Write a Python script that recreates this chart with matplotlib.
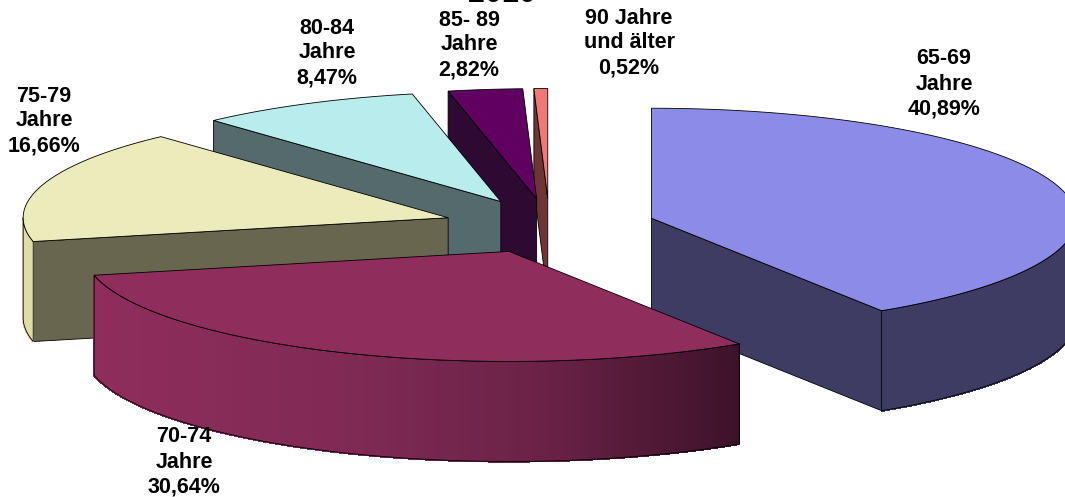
import numpy as np
import matplotlib
matplotlib.use('Agg')
import matplotlib.pyplot as plt
from matplotlib.colors import LinearSegmentedColormap
from matplotlib.patches import Polygon

plt.rcParams['font.family'] = ['Liberation Sans', 'DejaVu Sans']

# Daten
title = '2010'
age_labels = ['65-69\nJahre', '70-74\nJahre', '75-79\nJahre', '80-84\nJahre', '85- 89\nJahre', '90 Jahre\nund älter']
shares = [40.89, 30.64, 16.66, 8.47, 2.82, 0.52]

# Farben: Oberseite, Schnittflaeche, Mantel
top_colors = ['#8c8ce8', '#8f2d5c', '#ecebbb', '#b9ecec', '#600060', '#f07878']
cut_colors = ['#3e3c62', '#3c1229', '#68664f', '#546a6c', '#2e0a33', '#6e3535']
side_colors = ['#3e3c62', None, '#e0dca8', '#546a6c', '#2e0a33', '#6e3535']
maroon_side = LinearSegmentedColormap.from_list(
    'maroon_side', [(0, '#8f2d5c'), (0.4, '#7f2a55'), (0.7, '#6a2246'), (1, '#3c1229')])

# Geometrie der Torte in Pixeln
center_x, center_y = 549.5, 226
radius_x, radius_y = 425, 110
depth = 100
explode = 0.25

# Beschriftung: Mitte x, Mitte y
label_pos = [(944, 84), (184, 462), (44, 121), (327, 53), (469, 45), (629, 43)]
draw_order = [5, 4, 3, 2, 0, 1]

fig = plt.figure(figsize=(10.65, 4.97), dpi=100)
ax = fig.add_axes([0, 0, 1, 1])
ax.set_xlim(0, 1065)
ax.set_ylim(497, 0)
ax.axis('off')


def rim(cx, cy, angles):
    # Winkel im Uhrzeigersinn von 12 Uhr
    rad = np.radians(angles)
    return np.column_stack((cx + radius_x * np.sin(rad), cy - radius_y * np.cos(rad)))


edges = np.cumsum([0] + shares) / sum(shares) * 360

for i in draw_order:
    start, end = edges[i], edges[i + 1]
    mid = np.radians((start + end) / 2)
    cx = center_x + explode * radius_x * np.sin(mid)
    cy = center_y - explode * radius_y * np.cos(mid)
    apex = np.array([cx, cy])
    down = np.array([0, depth])

    # Schnittflaechen, nur die nach vorne zeigenden
    cuts = []
    if 180 < start < 360:
        cuts.append(start)
    if 0 < end < 180:
        cuts.append(end)
    for angle in cuts:
        p = rim(cx, cy, [angle])[0]
        ax.add_patch(Polygon([apex, p, p + down, apex + down], closed=True,
                             fc=cut_colors[i], ec='black', lw=0.6, zorder=1))

    # Mantel, vordere Haelfte der Ellipse
    lo, hi = max(start, 90), min(end, 270)
    if lo < hi:
        angles = np.linspace(lo, hi, max(int(hi - lo) * 2, 2))
        pts = rim(cx, cy, angles)
        for a, b in zip(pts[:-1], pts[1:]):
            if side_colors[i] is None:
                frac = ((a[0] + b[0]) / 2 - pts[:, 0].min()) / np.ptp(pts[:, 0])
                col = maroon_side(frac)
            else:
                col = side_colors[i]
            ax.add_patch(Polygon([a, b, b + down, a + down], closed=True,
                                 fc=col, ec=col, lw=1.0, antialiased=False, zorder=1))
        outline = np.vstack((pts, (pts + down)[::-1], pts[:1]))
        ax.add_patch(Polygon(outline, closed=True, fill=False, ec='black', lw=0.6, zorder=1))

    # Oberseite
    angles = np.linspace(start, end, max(int(end - start) * 2, 2))
    top = np.vstack((apex, rim(cx, cy, angles)))
    ax.add_patch(Polygon(top, closed=True, fc=top_colors[i], ec='black', lw=0.6, zorder=1))

    # Prozentwert mit Dezimalkomma
    txt = age_labels[i] + '\n' + f'{shares[i]:.2f}'.replace('.', ',') + '%'
    ax.text(label_pos[i][0], label_pos[i][1], txt, ha='center', va='center',
            fontsize=15.5, fontweight='bold', linespacing=1.25, color='black', zorder=5)

ax.text(502, 1.5, title, ha='center', va='baseline', fontsize=22, fontweight='bold', zorder=5)

fig.savefig('out.png', dpi=100)
